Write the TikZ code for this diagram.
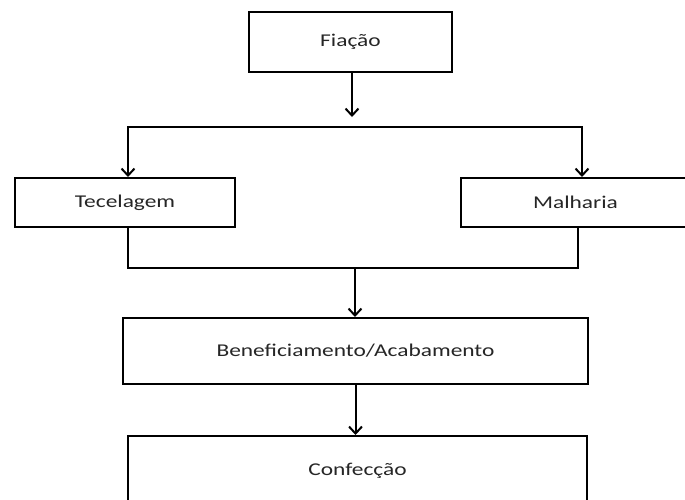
\documentclass[tikz,border=0pt]{standalone}
\usepackage{fontspec}
\setmainfont{Carlito}
\usetikzlibrary{arrows.meta}
\definecolor{txt}{HTML}{262626}
\tikzset{
  stepbox/.style={draw=black, line width=2pt, fill=white, inner sep=0pt,
    font=\fontsize{18}{20}\selectfont, text=txt},
  arr/.style={line width=2pt, -{Straight Barb[length=7pt,width=13pt,line width=2pt]}},
  conn/.style={line width=2pt}
}
\newcommand{\wide}[1]{\scalebox{1.3}[1]{#1}}
\begin{document}
\begin{tikzpicture}[x=1pt,y=-1pt]
\clip (0,0) rectangle (685,499);
\fill[white] (0,0) rectangle (685,499);
\node[stepbox, minimum width=203pt, minimum height=60pt] (fia) at (350.5,42) {\wide{Fiação}};
\node[stepbox, minimum width=220pt, minimum height=49pt] (tec) at (125,202.5) {\wide{Tecelagem}};
\node[stepbox, minimum width=229pt, minimum height=49pt] (mal) at (575.5,202.5) {\wide{Malharia}};
\node[stepbox, minimum width=465pt, minimum height=66pt] (ben) at (355.5,351) {\wide{Beneficiamento/Acabamento}};
\node[stepbox, minimum width=459pt, minimum height=70pt] (con) at (357.5,471) {\wide{Confecção}};
\coordinate (fiaend) at (352,117);
\coordinate (hl) at (128,127);
\coordinate (hr) at (582,127);
\coordinate (bl) at (128,268);
\coordinate (br) at (578,268);
\coordinate (bm) at (355,268);
\draw[arr] (fia.south -| fiaend) -- (fiaend);
\draw[conn, {Straight Barb[length=7pt,width=13pt,line width=2pt]}-{Straight Barb[length=7pt,width=13pt,line width=2pt]}]
  (hl |- tec.north) -- (hl) -- (hr) -- (hr |- mal.north);
\draw[conn] (bl |- tec.south) -- (bl) -- (br) -- (br |- mal.south);
\draw[arr] (bm) -- (bm |- ben.north);
\draw[arr] (ben.south) -- (ben.south |- con.north);
\end{tikzpicture}
\end{document}
